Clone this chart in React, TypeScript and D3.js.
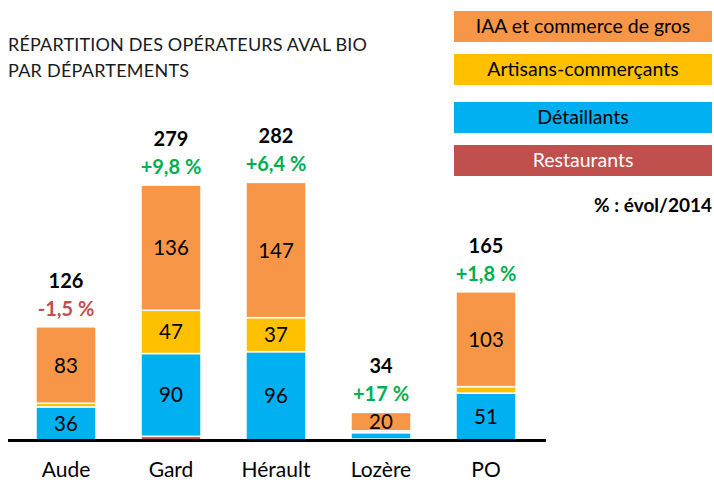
import React from "react";
import * as d3 from "d3";

const categories = ["Aude", "Gard", "Hérault", "Lozère", "PO"];
const restaurants = [0, 4, 0, 1, 0];
const detaillants = [36, 90, 96, 7, 51];
const artisans = [4, 47, 37, 2, 7];
const iaa = [83, 136, 147, 20, 103];
const totals = ["126", "279", "282", "34", "165"];
const evol = ["-1,5 %", "+9,8 %", "+6,4 %", "+17 %", "+1,8 %"];
const evolNeg = [true, false, false, false, false];

const seriesNames = ["Restaurants", "Détaillants", "Artisans-commerçants", "IAA et commerce de gros"];
const seriesColors = ["#c0504d", "#00b0f0", "#ffc000", "#f79646"];
const legendOrder = ["IAA et commerce de gros", "Artisans-commerçants", "Détaillants", "Restaurants"];

const FONT = "Lato, sans-serif";

export default function App() {
  const W = 714, H = 482;
  const x = d3.scaleBand().domain(categories).range([13.5, 538.5]).paddingInner(3 / 7).paddingOuter(0.5 * 3 / 7);
  const y = d3.scaleLinear().domain([0, 300]).range([440, 440 - 276]);
  const rows = categories.map((c, i) => ({
    cat: c,
    Restaurants: restaurants[i],
    "Détaillants": detaillants[i],
    "Artisans-commerçants": artisans[i],
    "IAA et commerce de gros": iaa[i],
  }));
  const stack = d3.stack<any>().keys(seriesNames)(rows);
  const legendY = [11, 54, 102, 145];
  return (
    <svg width={W} height={H} style={{ position: "absolute", left: 0, top: 0, fontFamily: FONT }}>
      <rect width={W} height={H} fill="#fff" />
      <text x={8} y={51} fontSize={18} fill="#1a1a1a" textLength={359} lengthAdjust="spacing">RÉPARTITION DES OPÉRATEURS AVAL BIO</text>
      <text x={8} y={77} fontSize={18} fill="#1a1a1a" textLength={181} lengthAdjust="spacing">PAR DÉPARTEMENTS</text>
      {stack.map((s, si) => (
        <g key={s.key}>
          {s.map((d, i) => {
            const v = d[1] - d[0];
            if (v <= 0) return null;
            const top = y(d[1]);
            const h = y(d[0]) - y(d[1]);
            return (
              <g key={i}>
                <rect x={x(categories[i])} y={top} width={x.bandwidth()} height={h}
                  fill={seriesColors[si]} stroke="#fff" strokeWidth={1.5} />
                {v >= 10 && (
                  <text x={(x(categories[i]) as number) + x.bandwidth() / 2} y={top + h / 2 + 7.5}
                    textAnchor="middle" fontSize={20.5} fill="#000">{v}</text>
                )}
              </g>
            );
          })}
        </g>
      ))}
      {categories.map((c, i) => {
        const top = y(stack[stack.length - 1][i][1]);
        const cx = (x(c) as number) + x.bandwidth() / 2;
        return (
          <g key={c}>
            <text x={cx} y={top - 39} textAnchor="middle" fontSize={20} fontWeight="bold" fill="#000">{totals[i]}</text>
            <text x={cx} y={top - 11} textAnchor="middle" fontSize={20} fontWeight="bold"
              fill={evolNeg[i] ? "#c0504d" : "#00b050"}>{evol[i]}</text>
            <text x={cx} y={477} textAnchor="middle" fontSize={21} fill="#000">{c}</text>
          </g>
        );
      })}
      <line x1={8} x2={546} y1={440.5} y2={440.5} stroke="#000" strokeWidth={3} />
      {legendOrder.map((name, i) => {
        const si = seriesNames.indexOf(name);
        return (
          <g key={name}>
            <rect x={454} y={legendY[i]} width={258} height={31} fill={seriesColors[si]} />
            <text x={583} y={legendY[i] + 22} textAnchor="middle" fontSize={19.5}
              fill={name === "Restaurants" ? "#fff" : "#000"}>{name}</text>
          </g>
        );
      })}
      <text x={712} y={212} textAnchor="end" fontSize={19} fontWeight="bold" fill="#000">% : évol/2014</text>
    </svg>
  );
}
